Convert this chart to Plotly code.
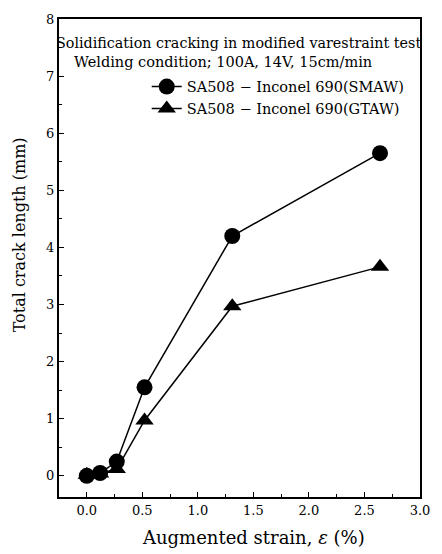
import plotly.graph_objects as go

strain_smaw = [0.0, 0.12, 0.27, 0.52, 1.31, 2.64]
crack_smaw = [0.0, 0.05, 0.25, 1.55, 4.20, 5.65]
strain_gtaw = [0.0, 0.12, 0.27, 0.52, 1.31, 2.64]
crack_gtaw = [0.02, 0.04, 0.12, 0.97, 2.97, 3.66]

x_ticks = [0.0, 0.5, 1.0, 1.5, 2.0, 2.5, 3.0]
x_ticklabels = ["0.0", "0.5", "1.0", "1.5", "2.0", "2.5", "3.0"]
y_ticks = [0, 1, 2, 3, 4, 5, 6, 7, 8]

FONT = "DejaVu Serif"

fig = go.Figure()
fig.add_trace(go.Scatter(
    x=strain_smaw, y=crack_smaw, mode="lines+markers",
    name="SA508 \u2212 Inconel 690(SMAW)",
    line=dict(color="black", width=1.5),
    marker=dict(symbol="circle", size=16, color="black"),
))
fig.add_trace(go.Scatter(
    x=strain_gtaw, y=crack_gtaw, mode="lines+markers",
    name="SA508 \u2212 Inconel 690(GTAW)",
    line=dict(color="black", width=1.5),
    marker=dict(symbol="triangle-up", size=16, color="black"),
))

fig.update_layout(
    width=442, height=554,
    margin=dict(l=59, r=12, t=15, b=57),
    paper_bgcolor="white", plot_bgcolor="white",
    font=dict(family=FONT, color="black", size=13),
    showlegend=True,
    legend=dict(x=0.243, y=0.892, xanchor="left", yanchor="top",
                bgcolor="rgba(0,0,0,0)", font=dict(size=14.5, family=FONT),
                tracegroupgap=0, itemwidth=30),
    xaxis=dict(
        range=[-0.25, 3.0], tickvals=x_ticks, ticktext=x_ticklabels,
        ticks="inside", ticklen=5, tickcolor="black",
        minor=dict(dtick=0.25, ticks="inside", ticklen=3, tickcolor="black"),
        showline=True, linecolor="black", linewidth=2, mirror=True,
        showgrid=False, zeroline=False,
        tickfont=dict(size=13),
    ),
    yaxis=dict(
        range=[-0.37, 8.0], tickvals=y_ticks,
        ticks="inside", ticklen=5, tickcolor="black",
        minor=dict(dtick=0.5, ticks="inside", ticklen=3, tickcolor="black"),
        showline=True, linecolor="black", linewidth=2, mirror=True,
        showgrid=False, zeroline=False,
        tickfont=dict(size=13),
    ),
)

fig.add_annotation(text="Augmented strain, <i>\u03b5</i> (%)",
                   xref="paper", yref="paper", x=0.539, y=-0.085, showarrow=False,
                   font=dict(size=18, family=FONT), xanchor="center", yanchor="middle")
fig.add_annotation(text="Total crack length (mm)", textangle=-90,
                   xref="paper", yref="paper", x=-0.11, y=0.548, showarrow=False,
                   font=dict(size=16, family=FONT), xanchor="center", yanchor="middle")
fig.add_annotation(text="Solidification cracking in modified varestraint test",
                   xref="paper", yref="paper", x=0.498, y=0.95, showarrow=False,
                   font=dict(size=14.3, family=FONT), xanchor="center", yanchor="middle")
fig.add_annotation(text="Welding condition; 100A, 14V, 15cm/min",
                   xref="paper", yref="paper", x=0.035, y=0.91, showarrow=False,
                   font=dict(size=14.5, family=FONT), xanchor="left", yanchor="middle")

fig.write_html("out.html")
